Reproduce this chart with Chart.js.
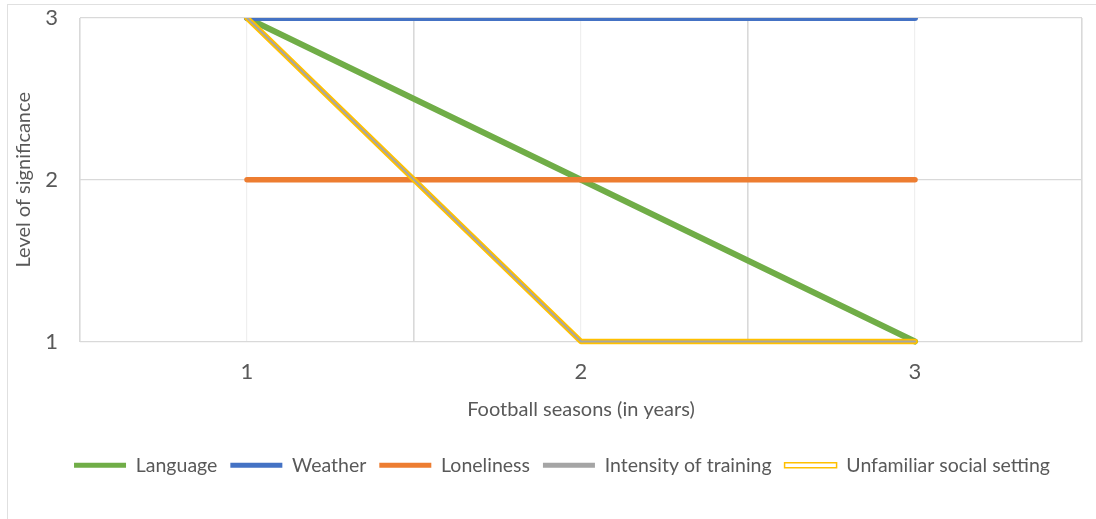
<!DOCTYPE html>
<html>
<head>
<meta charset="utf-8">
<script src="https://cdn.jsdelivr.net/npm/chart.js@4.4.1/dist/chart.umd.min.js"></script>
<style>
  body { margin: 0; background: #fff; overflow: hidden; }
  #frame {
    position: absolute; left: 7px; top: 4px; width: 1200px; height: 600px;
    border-top: 1.5px solid #e0e0e0; border-left: 1.5px solid #e0e0e0;
  }
  #chart { position: absolute; left: 0; top: 0; }
</style>
</head>
<body>
<div id="frame"></div>
<canvas id="chart" width="1096" height="519"></canvas>
<script>
// Football seasons on the x axis, level of significance on the y axis
const seasons = [1, 2, 3];
const language = [3, 2, 1];
const weather = [3, 3, 3];
const loneliness = [2, 2, 2];
const intensity = [3, 1, 1];
const unfamiliar = [3, 1, 1];
const yTicks = [1, 2, 3];

const textColor = '#595959';
const font = 'Lato, "Open Sans", sans-serif';

const points = (vals) => seasons.map((s, i) => ({ x: s, y: vals[i] }));

const lineStyle = {
  pointRadius: 0,
  pointHoverRadius: 0,
  borderCapStyle: 'round',
  borderJoinStyle: 'round',
  clip: { left: 6, top: 0, right: 6, bottom: 6 },
};

// legend swatches (unfamiliar is a double line: yellow outline, hollow middle)
const swatches = [
  { text: 'Language', fill: '#70AD47', stroke: '#70AD47', lw: 0 },
  { text: 'Weather', fill: '#4472C4', stroke: '#4472C4', lw: 0 },
  { text: 'Loneliness', fill: '#ED7D31', stroke: '#ED7D31', lw: 0 },
  { text: 'Intensity of training', fill: '#A5A5A5', stroke: '#A5A5A5', lw: 0 },
  { text: 'Unfamiliar social setting', fill: '#ffffff', stroke: '#FFC000', lw: 1.5 },
];

// nudge the legend row to the right, like the original
const legendShift = {
  id: 'legendShift',
  afterLayout(chart) {
    if (chart.legend) {
      chart.legend.left += 21;
      chart.legend.right += 21;
    }
  },
};

new Chart(document.getElementById('chart'), {
  type: 'line',
  data: {
    datasets: [
      { label: 'Language', data: points(language), borderColor: '#70AD47', borderWidth: 6, order: 5, ...lineStyle },
      { label: 'Weather', data: points(weather), borderColor: '#4472C4', borderWidth: 6, order: 4, ...lineStyle },
      { label: 'Loneliness', data: points(loneliness), borderColor: '#ED7D31', borderWidth: 5.5, order: 3, ...lineStyle },
      // grey drawn on top of the yellow so it shows through the hollow centre
      { label: 'Intensity of training', data: points(intensity), borderColor: '#A5A5A5', borderWidth: 2, order: 1, ...lineStyle },
      { label: 'Unfamiliar social setting', data: points(unfamiliar), borderColor: '#FFC000', borderWidth: 5.5, order: 2, ...lineStyle },
    ],
  },
  plugins: [legendShift],
  options: {
    responsive: false,
    animation: false,
    devicePixelRatio: 1,
    layout: { padding: { left: 0, top: 18, right: 14, bottom: 34 } },
    plugins: {
      tooltip: { enabled: false },
      legend: {
        position: 'bottom',
        onClick: null,
        labels: {
          boxWidth: 52,
          boxHeight: 5,
          padding: 13,
          color: textColor,
          font: { family: font, size: 19.5 },
          useBorderRadius: true,
          borderRadius: 2.5,
          generateLabels: () => swatches.map((s, i) => ({
            text: s.text,
            fillStyle: s.fill,
            strokeStyle: s.stroke,
            lineWidth: s.lw,
            fontColor: textColor,
            datasetIndex: i,
            hidden: false,
          })),
        },
      },
    },
    scales: {
      x: {
        type: 'linear',
        min: 0.5,
        max: 3.5,
        afterFit: (scale) => { scale.height = 101; },
        border: { display: false },
        grid: {
          drawTicks: true,
          tickLength: 17,
          tickColor: 'rgba(0,0,0,0)',
          color: (c) => Number.isInteger(c.tick.value) ? '#efefef' : '#d9d9d9',
          lineWidth: (c) => Number.isInteger(c.tick.value) ? 1.2 : 1.6,
        },
        ticks: {
          stepSize: 0.5,
          autoSkip: false,
          maxRotation: 0,
          padding: 0,
          color: textColor,
          font: { family: font, size: 22 },
          callback: (v) => Number.isInteger(v) ? String(v) : '',
        },
        title: {
          display: true,
          text: 'Football seasons (in years)',
          color: textColor,
          font: { family: font, size: 20 },
          padding: { top: 0, bottom: 21 },
        },
      },
      y: {
        min: 1,
        max: 3,
        afterFit: (scale) => { scale.width = 80; },
        border: { display: false },
        grid: {
          drawTicks: true,
          tickLength: 22,
          tickColor: 'rgba(0,0,0,0)',
          color: '#d9d9d9',
          lineWidth: 1.2,
        },
        afterBuildTicks: (scale) => { scale.ticks = yTicks.map((v) => ({ value: v })); },
        ticks: {
          padding: 0,
          color: textColor,
          font: { family: font, size: 22 },
        },
        title: {
          display: true,
          text: 'Level of significance',
          color: textColor,
          font: { family: font, size: 20 },
          padding: { top: 12, bottom: 0 },
        },
      },
    },
  },
});
</script>
</body>
</html>
